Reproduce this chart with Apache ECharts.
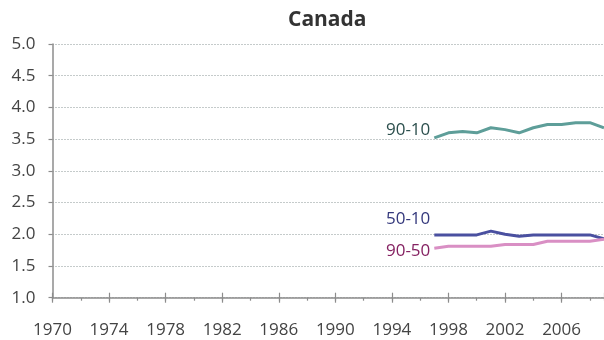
<!DOCTYPE html>
<html>
<head>
<meta charset="utf-8">
<script src="https://cdn.jsdelivr.net/npm/echarts@6/dist/echarts.min.js"></script>
<style>
  html, body { margin: 0; padding: 0; background: #fff; }
  #chart { width: 604px; height: 340px; }
</style>
</head>
<body>
<div id="chart"></div>
<script>
// Earnings inequality ratios for Canada
const years = [1997, 1998, 1999, 2000, 2001, 2002, 2003, 2004, 2005, 2006, 2007, 2008, 2009];
const ratio9010 = [3.52, 3.60, 3.62, 3.60, 3.68, 3.65, 3.60, 3.68, 3.73, 3.73, 3.76, 3.76, 3.68];
const ratio5010 = [1.99, 1.99, 1.99, 1.99, 2.05, 2.00, 1.97, 1.99, 1.99, 1.99, 1.99, 1.99, 1.93];
const ratio9050 = [1.78, 1.81, 1.81, 1.81, 1.81, 1.84, 1.84, 1.84, 1.89, 1.89, 1.89, 1.89, 1.92];
const seriesNames = ['90-10', '50-10', '90-50'];
const lineColors = ['#5e9e99', '#4a50a0', '#d98fc4'];
const labelColors = ['#2c4f4d', '#34387c', '#852262'];
const labelOffsets = [[0, -8], [0, -16], [0, 3]];
const yTicks = { min: 1, max: 5, step: 0.5 };
const xTicks = { min: 1970, max: 2009, step: 4 };

const FONT = '"Open Sans", "DejaVu Sans", sans-serif';
const axisGrey = '#8c8c8c';
const allSeries = [ratio9010, ratio5010, ratio9050];

const chart = echarts.init(document.getElementById('chart'), null, { renderer: 'canvas' });

const hiddenX = {
  type: 'value',
  min: xTicks.min,
  max: xTicks.max,
  position: 'bottom',
  axisLine: { show: false },
  axisLabel: { show: false },
  splitLine: { show: false }
};

// the three ratio lines
const lineSeries = allSeries.map((vals, idx) => ({
  name: seriesNames[idx],
  type: 'line',
  data: vals.map((v, i) => [years[i], v]),
  showSymbol: false,
  clip: true,
  lineStyle: { color: lineColors[idx], width: 3 },
  itemStyle: { color: lineColors[idx] },
  z: 3
}));

// name tags placed just left of each line's first point
const tagSeries = allSeries.map((vals, idx) => ({
  type: 'scatter',
  data: [[years[0], vals[0]]],
  symbolSize: 0,
  itemStyle: { color: lineColors[idx] },
  silent: true,
  label: {
    show: true,
    position: 'left',
    distance: 4,
    offset: labelOffsets[idx],
    formatter: seriesNames[idx],
    color: labelColors[idx],
    opacity: 1,
    fontSize: 17,
    fontFamily: FONT
  },
  z: 4
}));

chart.setOption({
  animation: false,
  backgroundColor: '#ffffff',
  title: {
    text: 'Canada',
    left: 283,
    top: 5,
    textStyle: { fontFamily: FONT, fontWeight: 'bold', fontSize: 21, color: '#333333' }
  },
  grid: { left: 52.5, right: 0, top: 44, bottom: 42.3 },
  xAxis: [
    {
      type: 'value',
      min: xTicks.min,
      max: xTicks.max,
      interval: xTicks.step,
      position: 'bottom',
      axisLine: { show: true, onZero: false, lineStyle: { color: axisGrey, width: 1.5 } },
      axisTick: { show: true, length: 5, lineStyle: { color: axisGrey, width: 1.2 } },
      axisLabel: {
        margin: 24,
        fontSize: 17,
        fontFamily: FONT,
        color: '#444444',
        showMaxLabel: false,
        formatter: v => String(v)
      },
      splitLine: { show: false }
    },
    Object.assign({}, hiddenX, {
      interval: xTicks.step,
      axisTick: { show: true, inside: true, length: 5, lineStyle: { color: axisGrey, width: 1.2 } }
    }),
    Object.assign({}, hiddenX, {
      interval: 2,
      axisTick: { show: true, length: 3, lineStyle: { color: axisGrey, width: 1.2 } }
    })
  ],
  yAxis: {
    type: 'value',
    min: yTicks.min,
    max: yTicks.max,
    interval: yTicks.step,
    axisLine: { show: true, lineStyle: { color: axisGrey, width: 1.5 } },
    axisTick: { show: true, length: 4, lineStyle: { color: axisGrey, width: 1.2 } },
    axisLabel: {
      margin: 17,
      fontSize: 17,
      fontFamily: FONT,
      color: '#444444',
      formatter: v => v.toFixed(1)
    },
    splitLine: { show: true, lineStyle: { color: '#8a9696', width: 1, type: [1, 2] } }
  },
  series: lineSeries.concat(tagSeries)
});
</script>
</body>
</html>
